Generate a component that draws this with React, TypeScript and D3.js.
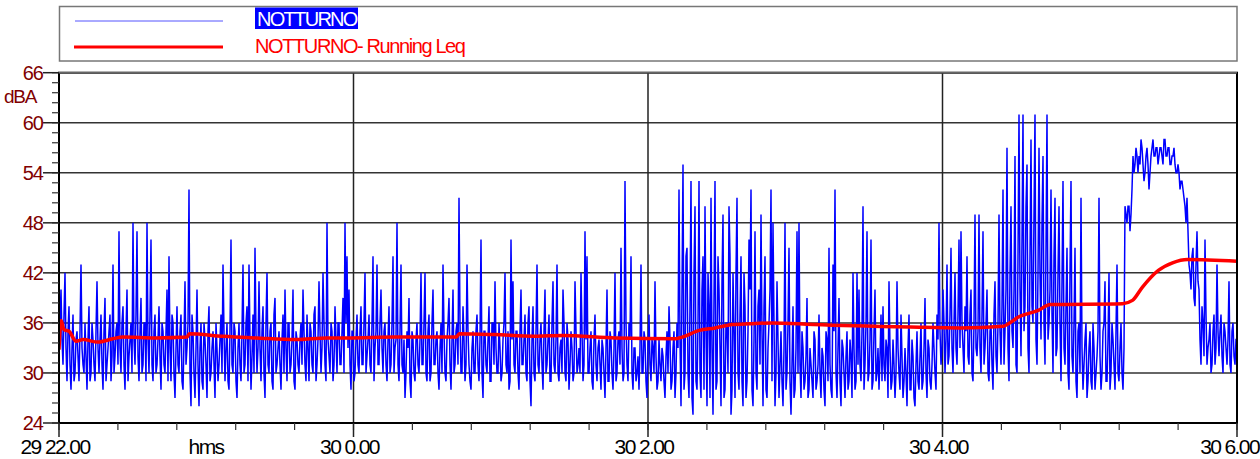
import React from 'react';
import * as d3 from 'd3';

const X_TICK_LABELS = ['29 22.00', '30 0.00', '30 2.00', '30 4.00', '30 6.00'];
const X_MAJOR = [0, 1, 2, 3, 4];
const Y_MAJOR = [24, 30, 36, 42, 48, 54, 60, 66];
const Y_GRID = [30, 36, 42, 48, 54, 60];
const SERIES_NAMES = ['NOTTURNO', 'NOTTURNO- Running Leq'];

// NOTTURNO level (dBA), even samples over the time axis
const NOISE = [
  33,40,31,42,29,38,28,37,30,35, 29,43,31,36,28,38,30,34,29,41,
  30,37,28,39,31,35,29,43,32,36, 47,30,38,28,40,32,36,48,31,47,
  29,39,31,36,48,30,46,29,37,31, 38,28,35,30,40,44,29,36,27,38,
  30,37,28,41,33,52,26,35,27,40, 26,36,28,34,27,38,30,35,27,33,
  31,37,43,29,36,28,46,30,35,27, 36,29,43,31,38,43,28,37,45,30,
  41,29,38,27,42,30,36,28,39,31, 35,28,37,40,29,36,31,40,28,34,
  30,36,40,31,37,29,35,30,38,31, 41,30,42,31,48,32,36,29,38,30,
  36,31,39,48,44,40,28,35,30,37, 30,38,31,42,32,37,30,44,33,43,
  31,40,30,36,29,38,31,44,33,48, 29,43,30,27,35,39,27,34,29,36,
  30,42,31,42,29,37,30,40,31,35, 28,36,43,30,34,39,28,40,31,36,
  51,30,38,29,43,31,28,35,30,37, 29,46,27,35,30,38,29,36,41,30,
  36,29,34,42,30,28,46,41,30,35, 28,40,31,37,29,38,26,38,29,43,
  30,36,28,40,31,37,29,41,30,43, 29,34,40,30,36,28,35,29,41,30,
  33,42,29,47,44,30,35,28,37,29, 34,28,33,27,40,29,34,28,42,30,
  35,45,29,53,31,36,44,28,33,30, 28,43,30,34,27,37,29,33,41,28,
  34,29,32,27,35,38,28,33,27,36, 52,26,55,30,45,27,53,25,50,28,
  53,27,44,50,26,38,51,25,53,29, 40,26,49,28,36,50,25,42,27,51,
  28,44,26,38,29,46,52,26,47,28, 40,49,26,44,27,36,52,48,26,41,
  27,35,26,48,30,45,25,38,28,47, 48,27,33,29,39,28,31,27,34,29,
  37,27,32,26,34,45,28,43,52,27, 39,26,33,27,35,29,32,42,28,42,
  40,29,50,31,47,30,46,29,40,30, 28,37,38,29,33,41,28,34,27,41,
  30,37,27,33,26,37,28,32,26,35, 28,36,29,39,27,33,28,36,30,37,
  48,31,40,30,43,32,45,30,42,31, 46,47,33,38,44,31,40,29,49,32,
  49,30,47,33,40,29,36,28,41,30, 49,31,52,35,57,29,50,33,56,30,
  61,32,61,38,55,30,58,36,61,31, 57,34,56,31,61,36,52,30,51,33,
  50,29,53,31,45,28,53,30,45,27, 36,51,28,34,27,33,29,36,28,32,
  51,28,35,41,29,42,30,34,28,43, 29,36,28,50,48,50,49,56,55,56,
  56,58,55,54,57,52,56,58,56,57, 56,57,55,58,56,57,55,56,55,54,
  54,53,52,50,51,43,40,45,38,47, 40,31,36,46,31,34,30,35,31,43,
  32,37,30,35,31,41,30,36,31,34,
];

// NOTTURNO level (dBA), odd samples (between the even ones)
const NOISE_ODD = [
  36,34,37,33,35,31,33,29,34,32, 35,33,30,32,34,29,36,31,35,33,
  34,31,35,29,33,37,32,30,35,31, 33,36,31,35,29,34,30,34,37,32,
  35,30,36,29,34,37,31,35,30,34, 32,36,31,35,29,33,37,30,33,31,
  35,29,34,31,36,30,37,30,33,31, 33,29,36,31,35,29,33,31,36,29,
  34,30,35,33,29,35,31,36,29,33, 31,35,30,36,29,34,32,30,35,33,
  33,35,30,36,31,35,29,37,30,33, 31,34,30,33,36,30,34,29,35,31,
  34,31,35,29,33,36,31,37,29,34, 35,33,36,29,34,30,35,31,34,36,
  31,35,30,36,33,31,35,29,34,31, 35,31,36,30,34,31,36,29,35,31,
  36,33,35,31,34,30,36,30,34,31, 35,31,34,30,33,29,35,30,34,31,
  34,31,36,30,35,29,36,31,34,30, 33,30,35,29,36,31,34,30,35,31,
  36,30,34,31,35,29,33,30,35,31, 34,30,35,31,34,29,36,31,33,30,
  33,30,36,31,35,29,34,31,35,30, 35,31,34,30,36,29,34,30,35,31,
  34,31,35,30,34,29,36,31,34,30, 33,30,36,29,34,31,33,30,35,31,
  30,35,31,34,30,33,29,34,31,33, 31,34,30,33,29,35,30,33,29,34,
  31,33,30,36,29,34,30,33,29,32, 33,30,35,29,33,31,34,30,32,29,
  31,33,29,32,30,34,29,35,30,33, 34,40,28,44,30,38,27,42,29,36,
  30,40,28,35,42,27,33,39,28,44, 33,41,27,36,30,44,28,35,42,30,
  37,29,42,27,35,40,28,34,30,38, 31,35,38,28,33,40,29,36,30,34,
  31,29,33,28,36,29,31,27,33,30, 31,35,28,32,27,33,29,35,28,31,
  30,33,28,35,29,31,27,35,30,33, 29,34,30,32,28,34,27,33,29,31,
  31,35,28,36,29,34,28,35,29,33, 32,29,31,34,27,33,29,31,30,33,
  28,32,29,30,33,28,34,27,31,29, 32,28,33,30,34,29,31,33,28,34,
  35,33,36,34,31,37,33,36,33,37, 33,36,30,35,32,37,30,36,33,35,
  33,37,31,36,30,35,31,37,32,36, 35,38,31,40,33,42,35,40,31,44,
  40,46,35,50,33,44,38,49,34,42, 42,48,36,45,34,40,37,44,32,42,
  36,41,33,38,30,42,32,36,29,35, 30,33,31,36,29,35,28,33,30,35,
  32,30,36,29,34,28,36,31,35,30, 33,30,33,49,50,47,52,54,57,54,
  55,57,53,56,55,54,57,56,57,55, 57,56,58,56,57,55,56,57,54,55,
  52,53,51,48,47,42,44,39,43,41, 34,38,32,37,33,36,31,37,33,35,
  35,32,36,33,34,31,35,32,34,31,
];

// Running Leq: time position (axis units) and level (dBA)
const LEQ_T = [0, 0.007, 0.017, 0.034, 0.058, 0.082, 0.132, 0.183, 0.217, 0.329, 0.435, 0.442,
  0.557, 0.669, 0.805, 0.91, 0.978, 1.138, 1.349, 1.359, 1.478, 1.613, 1.709, 1.889, 2.092,
  2.116, 2.174, 2.228, 2.286, 2.344, 2.422, 2.561, 2.891, 3.06, 3.207, 3.224, 3.258, 3.325,
  3.366, 3.611, 3.645, 3.679, 3.733, 3.781, 3.832, 4.0];
const LEQ_V = [32.8, 36.3, 35.2, 35.0, 33.8, 34.0, 33.7, 34.1, 34.3, 34.2, 34.3, 34.7,
  34.4, 34.2, 34.0, 34.2, 34.2, 34.3, 34.3, 34.7, 34.6, 34.4, 34.5, 34.2, 34.1,
  34.3, 35.1, 35.4, 35.8, 35.9, 36.0, 35.8, 35.5, 35.4, 35.6, 35.9, 36.7, 37.5,
  38.2, 38.3, 38.7, 40.3, 42.3, 43.2, 43.6, 43.4];

const W = 1260;
const H = 459;
const L = 59;
const R = 1237;
const T = 72.7;
const B = 423;
const FONT = '"Liberation Sans", Arial, sans-serif';
const DARKRED = '#800000';

export default function App() {
  const x = d3.scaleLinear().domain([0, 4]).range([L, R]);
  const y = d3.scaleLinear().domain([24, 66]).range([B, T]);
  // merge even and odd samples into one evenly spaced record
  const series = d3.merge<number>(NOISE.map((v, i) => (i < NOISE.length - 1 ? [v, NOISE_ODD[i]] : [v])));
  const step = 4 / (series.length - 1);
  const blue = d3.line<number>().x((_, i) => x(i * step)).y((d) => y(d))(series) || '';
  const red = d3.line<number>().x((_, i) => x(LEQ_T[i])).y((d) => y(d)).curve(d3.curveMonotoneX)(LEQ_V) || '';
  const yMinor = d3.range(0, 36).map((i) => 24 + i * 1.2);
  const xMinor = d3.range(0, 21).map((i) => i * 0.2);

  return (
    <svg width={W} height={H} style={{ position: 'absolute', left: 0, top: 0, background: '#fff' }} fontFamily={FONT}>
      <defs>
        <clipPath id="plot">
          <rect x={L} y={T} width={R - L} height={B - T} />
        </clipPath>
      </defs>
      {/* legend */}
      <rect x={59.5} y={6.5} width={R - 59.5} height={54.5} fill="#fff" stroke="#777" strokeWidth={1.5} />
      <line x1={75} x2={223} y1={21} y2={21} stroke="#5555ff" strokeWidth={1} />
      <rect x={255} y={7.5} width={103} height={21.5} fill="#0000ff" />
      <text x={257} y={26} fontSize={20} letterSpacing={-1.7} fill="#fff">{SERIES_NAMES[0]}</text>
      <line x1={74} x2={223} y1={47} y2={47} stroke="#ff0000" strokeWidth={3} />
      <text x={255} y={53} fontSize={20} letterSpacing={-1.4} fill="#ff0000">{SERIES_NAMES[1]}</text>

      {/* grid */}
      {Y_GRID.map((v) => (
        <line key={'gy' + v} x1={L} x2={R} y1={y(v)} y2={y(v)} stroke="#333" strokeWidth={1.5} />
      ))}
      {X_MAJOR.slice(1, 4).map((v) => (
        <line key={'gx' + v} x1={x(v)} x2={x(v)} y1={T} y2={B} stroke="#222" strokeWidth={1.5} />
      ))}

      {/* data */}
      <g clipPath="url(#plot)">
        <path d={blue} fill="none" stroke="#0000ff" strokeWidth={1.5} />
        <path d={red} fill="none" stroke="#ff0000" strokeWidth={3.5} strokeLinejoin="round" />
      </g>

      {/* frame */}
      <rect x={L} y={T} width={R - L} height={B - T} fill="none" stroke="#000" strokeWidth={2} />
      <line x1={L} x2={R} y1={T} y2={T} stroke="#666" strokeWidth={1.5} />

      {/* y axis ticks */}
      {yMinor.map((v) => (
        <line key={'ym' + v} x1={52} x2={L} y1={y(v)} y2={y(v)} stroke="#333" strokeWidth={1.2} />
      ))}
      {Y_MAJOR.map((v) => (
        <g key={'yl' + v}>
          <line x1={43} x2={L} y1={y(v)} y2={y(v)} stroke="#222" strokeWidth={1.5} />
          <text x={43} y={y(v) + 7} fontSize={20} letterSpacing={-1} textAnchor="end" fill={DARKRED}>{v}</text>
        </g>
      ))}
      <text x={4} y={103} fontSize={19} letterSpacing={-1.2} fill={DARKRED}>dBA</text>

      {/* x axis ticks */}
      {xMinor.map((v) => (
        <line key={'xm' + v} x1={x(v)} x2={x(v)} y1={B} y2={B + 7} stroke="#333" strokeWidth={1.2} />
      ))}
      {X_MAJOR.map((v, i) => {
        const last = i === X_MAJOR.length - 1;
        return (
          <g key={'xl' + v}>
            <line x1={x(v)} x2={x(v)} y1={B} y2={B + 14} stroke="#222" strokeWidth={1.5} />
            <text x={last ? W - 1 : x(v) - 4} y={454} fontSize={21} letterSpacing={-1.6}
              textAnchor={last ? 'end' : 'middle'} fill="#000">{X_TICK_LABELS[i]}</text>
          </g>
        );
      })}
      <text x={206} y={454} fontSize={21} letterSpacing={-1.6} textAnchor="middle" fill="#000">hms</text>
    </svg>
  );
}
